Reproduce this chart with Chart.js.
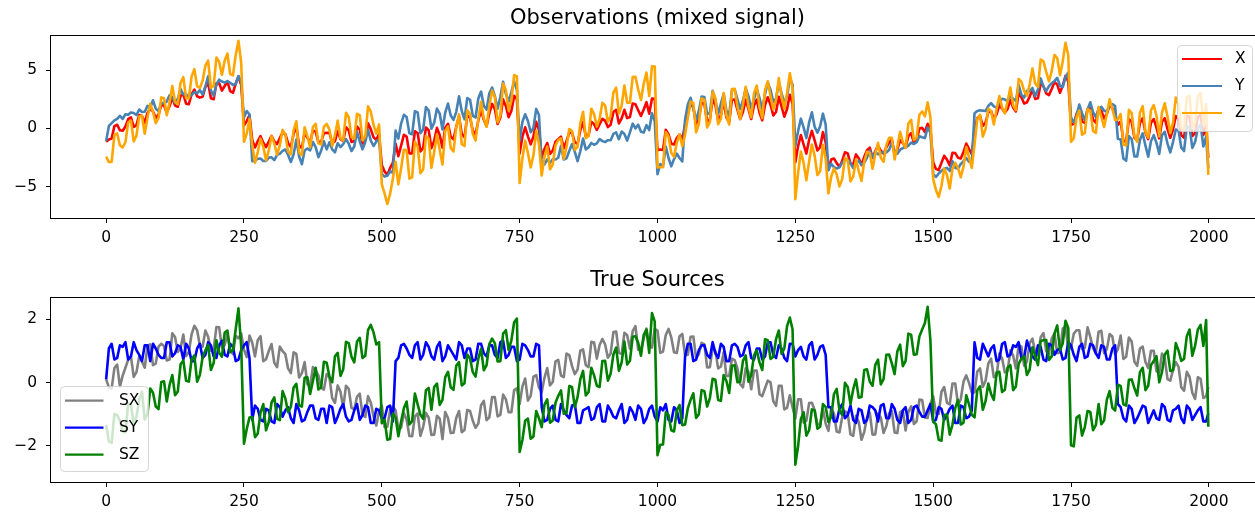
<!DOCTYPE html>
<html>
<head>
<meta charset="utf-8">
<script src="https://cdn.jsdelivr.net/npm/chart.js@4.4.1/dist/chart.umd.min.js"></script>
<style>
    html, body { margin: 0; padding: 0; background: #fff; overflow: hidden; }
    #wrap { position: relative; width: 1255px; height: 513px; overflow: hidden; }
    canvas { position: absolute; left: 0; }
    #obsChart { top: 0; }
    #srcChart { top: 250px; }
</style>
</head>
<body>
<div id="wrap">
    <canvas id="obsChart" width="1275" height="250"></canvas>
    <canvas id="srcChart" width="1275" height="263"></canvas>
</div>
<script>
// sample positions (every 5th sample, plus the last one)
const sampleIndex = [
    0, 5, 10, 15, 20, 25, 30, 35, 40, 45, 50, 55, 60, 65, 70, 75, 80, 85, 90, 95,
    100, 105, 110, 115, 120, 125, 130, 135, 140, 145, 150, 155, 160, 165, 170, 175, 180, 185, 190, 195,
    200, 205, 210, 215, 220, 225, 230, 235, 240, 245, 250, 255, 260, 265, 270, 275, 280, 285, 290, 295,
    300, 305, 310, 315, 320, 325, 330, 335, 340, 345, 350, 355, 360, 365, 370, 375, 380, 385, 390, 395,
    400, 405, 410, 415, 420, 425, 430, 435, 440, 445, 450, 455, 460, 465, 470, 475, 480, 485, 490, 495,
    500, 505, 510, 515, 520, 525, 530, 535, 540, 545, 550, 555, 560, 565, 570, 575, 580, 585, 590, 595,
    600, 605, 610, 615, 620, 625, 630, 635, 640, 645, 650, 655, 660, 665, 670, 675, 680, 685, 690, 695,
    700, 705, 710, 715, 720, 725, 730, 735, 740, 745, 750, 755, 760, 765, 770, 775, 780, 785, 790, 795,
    800, 805, 810, 815, 820, 825, 830, 835, 840, 845, 850, 855, 860, 865, 870, 875, 880, 885, 890, 895,
    900, 905, 910, 915, 920, 925, 930, 935, 940, 945, 950, 955, 960, 965, 970, 975, 980, 985, 990, 995,
    1000, 1005, 1010, 1015, 1020, 1025, 1030, 1035, 1040, 1045, 1050, 1055, 1060, 1065, 1070, 1075, 1080, 1085, 1090, 1095,
    1100, 1105, 1110, 1115, 1120, 1125, 1130, 1135, 1140, 1145, 1150, 1155, 1160, 1165, 1170, 1175, 1180, 1185, 1190, 1195,
    1200, 1205, 1210, 1215, 1220, 1225, 1230, 1235, 1240, 1245, 1250, 1255, 1260, 1265, 1270, 1275, 1280, 1285, 1290, 1295,
    1300, 1305, 1310, 1315, 1320, 1325, 1330, 1335, 1340, 1345, 1350, 1355, 1360, 1365, 1370, 1375, 1380, 1385, 1390, 1395,
    1400, 1405, 1410, 1415, 1420, 1425, 1430, 1435, 1440, 1445, 1450, 1455, 1460, 1465, 1470, 1475, 1480, 1485, 1490, 1495,
    1500, 1505, 1510, 1515, 1520, 1525, 1530, 1535, 1540, 1545, 1550, 1555, 1560, 1565, 1570, 1575, 1580, 1585, 1590, 1595,
    1600, 1605, 1610, 1615, 1620, 1625, 1630, 1635, 1640, 1645, 1650, 1655, 1660, 1665, 1670, 1675, 1680, 1685, 1690, 1695,
    1700, 1705, 1710, 1715, 1720, 1725, 1730, 1735, 1740, 1745, 1750, 1755, 1760, 1765, 1770, 1775, 1780, 1785, 1790, 1795,
    1800, 1805, 1810, 1815, 1820, 1825, 1830, 1835, 1840, 1845, 1850, 1855, 1860, 1865, 1870, 1875, 1880, 1885, 1890, 1895,
    1900, 1905, 1910, 1915, 1920, 1925, 1930, 1935, 1940, 1945, 1950, 1955, 1960, 1965, 1970, 1975, 1980, 1985, 1990, 1995,
    1999
];

// Observations (mixed signal)
const obsX = [
    -1.14, -0.94, -0.87, 0.20, 0.32, -0.16, -0.20, 0.17, 0.80, 0.96,
    0.13, 0.29, 1.16, 1.06, 0.48, 1.34, 1.70, 1.46, 0.92, 1.18,
    2.03, 1.98, 1.38, 1.93, 2.63, 1.97, 1.87, 2.80, 2.95, 2.13,
    2.08, 2.95, 3.34, 2.77, 2.65, 2.73, 3.55, 3.92, 2.59, 2.51,
    3.88, 3.88, 3.25, 3.65, 4.02, 3.21, 3.07, 3.86, 4.48, 3.72,
    0.28, 0.62, 1.16, -1.01, -1.63, -1.09, -0.66, -1.23, -1.60, -1.13,
    -0.64, -1.12, -1.34, -0.83, -0.35, -0.48, -1.27, -1.60, -0.48, 0.19,
    -1.45, -1.69, -0.38, -0.81, -1.20, -0.19, -0.27, -1.17, -1.15, -0.39,
    -0.38, -0.37, -1.26, -1.09, -0.23, -0.91, -1.06, 0.11, -0.18, -1.16,
    -1.09, 0.17, -0.11, -1.29, -0.97, 0.45, -0.08, -0.76, -0.98, -0.49,
    -3.15, -3.71, -3.99, -3.40, -2.97, -1.31, -2.38, -1.48, -0.54, -0.69,
    -2.14, -2.14, -0.24, -0.39, -1.98, -1.67, 0.08, -0.15, -1.69, -1.06,
    0.05, -0.57, -1.66, 0.07, 0.40, -0.72, -0.94, 0.14, 1.03, -0.48,
    -0.74, 1.10, 0.94, -0.20, -0.51, 0.69, 1.58, 0.74, 0.19, 1.30,
    2.11, 1.67, 0.38, 0.94, 2.50, 1.91, 0.97, 1.53, 2.80, 2.53,
    -2.15, -0.71, 0.10, -0.68, -1.37, -0.69, 0.57, -0.11, -2.49, -1.78,
    -1.25, -2.19, -1.91, -1.15, -0.93, -0.71, -1.70, -1.08, -0.37, -0.35,
    -1.19, -1.33, -0.17, 0.54, -0.69, -0.59, 0.58, 0.37, -0.12, 0.37,
    0.83, 0.67, 0.12, 0.32, 1.41, 1.60, 0.43, 0.87, 1.60, 0.89,
    0.98, 2.15, 2.08, 1.57, 1.07, 1.63, 2.26, 1.27, 2.58, 2.55,
    -1.88, -1.81, -1.86, -0.11, -0.51, -1.31, -1.37, -0.82, -0.52, -0.94,
    0.36, 1.29, 2.13, 1.80, 0.39, 0.93, 2.20, 2.13, 0.60, 0.78,
    2.50, 2.02, 0.68, 1.16, 2.33, 0.94, 0.56, 2.47, 2.49, 1.59,
    0.81, 1.42, 2.49, 1.65, 0.81, 1.97, 2.48, 1.35, 0.70, 2.02,
    2.68, 2.04, 1.11, 1.42, 2.73, 1.89, 1.01, 1.67, 2.89, 2.12,
    -2.91, -1.52, -0.56, -1.38, -2.16, -0.98, -0.21, -1.02, -1.89, -1.61,
    -0.32, -1.19, -3.56, -2.67, -2.58, -2.98, -3.30, -2.79, -2.05, -2.14,
    -3.05, -3.08, -2.23, -2.56, -3.15, -2.44, -1.87, -1.65, -2.53, -1.96,
    -1.48, -1.90, -2.17, -1.63, -1.21, -0.97, -2.14, -1.79, -1.01, -1.26,
    -1.61, -0.66, -0.41, -1.21, -1.06, -0.01, 0.05, -0.30, 0.40, -0.02,
    -2.90, -3.48, -3.58, -2.96, -2.35, -2.68, -3.17, -2.09, -2.12, -2.51,
    -2.59, -2.02, -1.30, -1.78, -2.21, -0.13, 0.89, 1.06, 0.23, 0.50,
    1.41, 1.48, 0.80, 1.22, 1.99, 1.70, 1.37, 1.68, 2.45, 1.80,
    1.46, 3.06, 2.68, 2.14, 2.24, 2.74, 3.34, 2.54, 2.59, 3.89,
    3.64, 3.02, 2.87, 3.40, 3.99, 3.77, 3.06, 3.68, 4.52, 4.05,
    0.29, 0.41, 1.23, 1.75, 0.61, 0.47, 1.68, 1.74, 0.76, 0.50,
    1.71, 1.50, 0.86, 1.25, 2.00, 1.74, 1.18, 0.31, 0.60, -1.07,
    -1.14, 0.79, 0.57, -0.80, -1.01, 0.48, 0.88, -0.37, -0.92, 0.49,
    0.81, 0.07, -0.85, 0.57, 0.88, -0.06, -0.80, -0.09, 1.07, 0.79,
    -0.59, -0.79, 1.08, 1.03, -0.65, -0.39, 0.97, 1.17, -0.56, 0.31,
    -2.52
];
const obsY = [
    -1.09, 0.22, 0.46, 0.70, 0.82, 1.09, 0.82, 1.22, 1.17, 1.38,
    1.32, 1.16, 1.63, 1.41, 1.43, 1.94, 1.78, 2.42, 1.70, 1.49,
    2.20, 2.18, 2.31, 2.85, 2.68, 2.18, 2.57, 3.39, 2.92, 2.94,
    2.68, 2.87, 3.12, 3.02, 3.29, 2.94, 3.61, 4.48, 3.27, 2.81,
    3.78, 4.19, 4.03, 3.94, 4.08, 3.93, 3.75, 3.80, 4.51, 3.97,
    0.94, 1.50, 1.20, -2.82, -2.78, -2.60, -2.58, -2.80, -2.80, -2.51,
    -2.48, -2.72, -2.27, -2.18, -1.93, -1.81, -2.28, -2.88, -2.24, -0.95,
    -2.41, -3.07, -1.89, -1.72, -1.88, -1.17, -1.60, -2.47, -1.90, -1.11,
    -1.80, -1.19, -1.80, -2.05, -1.27, -1.60, -1.34, -0.92, -1.31, -1.94,
    -1.55, -0.29, -1.12, -1.80, -1.16, -0.12, -1.05, -1.51, -1.13, -0.93,
    -3.92, -4.14, -4.07, -3.69, -3.82, -0.19, -0.87, 0.42, 1.17, 0.98,
    -0.42, -0.51, 1.48, 1.38, -0.41, -0.09, 1.84, 1.54, -0.03, 0.50,
    1.71, 1.28, -0.09, 1.37, 2.14, 1.11, 0.74, 1.43, 2.76, 1.49,
    0.79, 2.62, 2.47, 1.09, 0.94, 2.57, 3.17, 1.96, 1.62, 3.03,
    3.52, 2.78, 1.70, 2.73, 4.02, 2.96, 2.32, 3.13, 4.05, 3.30,
    -1.08, 0.58, 1.22, 0.64, -0.33, 0.05, 1.68, 1.15, -3.12, -3.09,
    -2.66, -2.98, -2.65, -2.67, -2.52, -1.50, -2.67, -2.57, -1.94, -1.34,
    -2.01, -2.82, -1.96, -0.87, -1.80, -1.62, -1.25, -1.40, -1.28, -0.91,
    -1.09, -1.17, -1.01, -1.02, -0.47, -0.34, -0.92, -0.27, -0.47, -1.04,
    -0.34, 0.41, 0.01, 0.32, -0.29, -0.35, 0.28, -0.14, 1.30, 0.62,
    -3.94, -3.06, -3.23, -1.55, -2.54, -3.26, -2.63, -2.17, -2.54, -2.84,
    0.76, 2.08, 2.64, 1.75, 0.73, 1.51, 2.75, 2.70, 1.24, 1.32,
    3.23, 2.45, 1.24, 2.14, 2.98, 1.52, 1.14, 3.27, 3.37, 2.50,
    1.67, 2.38, 3.45, 2.76, 1.70, 2.51, 3.37, 2.62, 1.65, 2.94,
    3.93, 3.32, 2.29, 2.57, 3.96, 3.02, 2.22, 2.75, 4.32, 3.75,
    -1.51, -0.23, 0.84, 0.09, -0.83, 0.53, 1.39, 0.15, -0.36, 0.19,
    1.27, 0.34, -3.58, -3.05, -3.32, -3.44, -3.34, -2.93, -2.73, -2.69,
    -2.96, -3.42, -2.99, -2.77, -3.13, -2.94, -2.50, -1.91, -2.49, -2.02,
    -2.22, -2.08, -2.05, -2.07, -1.86, -1.20, -2.18, -2.17, -1.83, -1.69,
    -1.63, -1.48, -1.22, -1.34, -1.18, -0.67, -0.76, -0.83, 0.08, -0.37,
    -3.92, -4.17, -3.87, -3.65, -3.46, -3.39, -3.66, -2.81, -3.39, -3.45,
    -3.06, -2.82, -2.55, -2.86, -2.94, 1.31, 1.50, 1.57, 1.53, 1.50,
    1.94, 2.18, 1.90, 1.79, 2.26, 2.55, 2.49, 2.33, 2.82, 2.55,
    2.37, 3.75, 2.89, 2.66, 3.24, 3.20, 3.48, 2.79, 3.34, 4.30,
    3.59, 3.21, 3.64, 3.89, 4.09, 4.34, 3.67, 3.56, 4.41, 4.81,
    0.92, 0.52, 1.08, 2.05, 1.31, 0.70, 1.64, 2.25, 1.40, 0.97,
    1.69, 1.86, 1.53, 1.45, 1.96, 2.09, 1.92, -0.90, -0.93, -2.58,
    -2.78, -0.66, -0.91, -2.41, -2.41, -0.99, -0.42, -1.48, -2.43, -1.10,
    -0.58, -1.24, -2.19, -0.57, -0.29, -1.30, -2.06, -1.17, -0.09, -0.19,
    -1.65, -1.94, 0.18, 0.11, -1.67, -1.16, 0.01, 0.33, -1.55, -0.70,
    -3.43
];
const obsZ = [
    -2.43, -2.89, -2.88, -0.56, -0.43, -1.44, -1.64, -1.18, 0.51, 0.68,
    -1.11, -0.62, 1.03, 1.11, -0.46, 0.92, 2.12, 1.42, 0.46, 0.91,
    2.67, 2.60, 1.13, 2.22, 3.65, 2.29, 2.08, 3.93, 4.41, 2.61,
    2.60, 4.46, 5.10, 3.63, 3.48, 4.11, 5.40, 5.84, 3.50, 3.66,
    6.10, 5.71, 4.62, 5.83, 6.44, 4.68, 4.56, 6.30, 7.53, 5.63,
    -1.14, -0.45, 0.80, -1.47, -2.95, -2.03, -0.88, -1.57, -2.74, -1.88,
    -0.66, -1.28, -2.25, -1.45, -0.12, -0.53, -1.99, -2.22, -0.16, 0.61,
    -2.10, -2.30, 0.10, -0.67, -1.62, 0.11, 0.40, -1.28, -1.39, 0.16,
    0.39, -0.10, -1.50, -0.58, 0.67, -0.85, -1.04, 1.35, 0.97, -0.74,
    -0.88, 1.25, 1.14, -1.03, -0.67, 1.90, 1.44, 0.30, -0.45, 0.35,
    -4.81, -5.59, -6.50, -5.63, -4.33, -2.86, -4.81, -3.43, -1.83, -1.88,
    -4.32, -4.21, -1.13, -1.57, -3.85, -3.52, -0.64, -0.88, -3.38, -2.03,
    -0.51, -1.85, -3.11, -0.23, 0.18, -1.67, -1.97, 0.11, 1.23, -1.36,
    -1.51, 1.56, 1.25, -0.48, -1.04, 0.80, 2.29, 0.84, 0.15, 1.97,
    3.27, 2.69, 0.52, 1.11, 3.86, 3.31, 1.53, 2.40, 4.59, 4.47,
    -4.69, -2.59, -1.05, -2.11, -3.36, -2.31, -0.21, -1.32, -4.05, -2.41,
    -1.55, -3.51, -3.10, -1.46, -0.99, -0.85, -2.61, -1.59, -0.05, -0.23,
    -1.84, -1.59, 0.44, 1.44, -0.83, -0.65, 1.70, 1.24, 0.16, 0.83,
    2.20, 1.97, 0.58, 1.06, 3.10, 3.52, 1.27, 1.97, 3.69, 2.21,
    2.21, 4.42, 4.45, 3.35, 2.45, 3.84, 4.80, 2.79, 5.34, 5.33,
    -3.36, -3.31, -3.33, -0.30, -0.69, -2.11, -2.44, -1.23, -0.50, -1.52,
    -0.54, 0.91, 2.31, 2.19, -0.34, 0.38, 2.59, 2.47, 0.08, 0.54,
    3.17, 2.61, 0.36, 0.84, 3.05, 1.10, 0.34, 3.38, 3.40, 1.83,
    0.82, 2.04, 3.58, 1.85, 0.95, 3.02, 3.69, 1.81, 0.89, 3.30,
    4.05, 2.80, 1.64, 2.43, 4.33, 2.75, 1.67, 3.06, 4.75, 3.41,
    -6.08, -3.81, -1.99, -2.96, -4.45, -2.82, -1.38, -2.34, -4.01, -3.68,
    -1.41, -2.61, -5.58, -4.16, -3.44, -3.96, -4.98, -4.36, -2.52, -2.77,
    -4.55, -4.14, -2.66, -3.67, -4.52, -2.82, -2.01, -2.10, -3.46, -2.22,
    -1.24, -2.52, -2.86, -1.44, -0.81, -0.81, -2.66, -1.60, -0.28, -1.19,
    -1.68, 0.43, 0.74, -0.99, -0.78, 1.18, 1.46, 1.04, 2.24, 0.98,
    -4.36, -5.29, -5.89, -4.95, -3.45, -4.01, -5.17, -3.44, -2.95, -3.40,
    -4.19, -3.28, -1.59, -2.48, -3.39, -1.39, 0.83, 1.17, -0.70, -0.06,
    1.69, 1.50, 0.34, 1.65, 2.79, 1.79, 1.30, 2.35, 3.51, 1.99,
    1.57, 4.25, 4.01, 3.24, 2.82, 3.78, 5.16, 3.87, 3.57, 5.93,
    5.77, 4.87, 4.05, 4.93, 6.32, 6.05, 4.57, 5.78, 7.37, 6.30,
    -1.15, -0.84, 0.95, 1.54, -0.54, -0.39, 1.66, 1.53, -0.21, -0.39,
    1.84, 1.00, 0.13, 1.24, 2.50, 1.67, 0.74, 0.77, 1.24, -1.39,
    -1.46, 1.60, 1.32, -0.65, -1.16, 1.35, 1.92, -0.29, -0.79, 1.56,
    2.00, 1.09, -0.68, 1.36, 2.16, 1.01, -0.40, 0.50, 2.65, 2.06,
    0.03, -0.17, 2.72, 2.80, 0.04, 0.51, 2.74, 3.06, 0.36, 2.07,
    -3.99
];

// True sources
const srcSX = [
    0.10, -0.15, -0.19, 0.46, 0.57, -0.13, 0.22, 0.47, 0.73, 0.83,
    0.18, 0.33, 0.83, 0.67, 0.47, 1.16, 1.21, 0.55, 0.60, 1.14,
    1.23, 1.16, 0.70, 0.73, 1.56, 1.44, 0.97, 1.09, 1.52, 0.84,
    0.97, 1.53, 1.80, 1.66, 1.18, 1.14, 1.65, 1.45, 1.01, 1.06,
    1.76, 1.75, 1.10, 1.19, 1.54, 1.02, 0.91, 1.49, 1.40, 1.56,
    1.04, 0.81, 1.49, 1.26, 0.83, 1.35, 1.47, 0.68, 0.74, 1.00,
    1.22, 0.63, 0.49, 1.14, 1.00, 0.90, 0.45, 0.30, 0.96, 0.91,
    0.16, 0.30, 0.65, -0.05, -0.11, 0.49, 0.39, 0.23, -0.17, -0.22,
    0.27, 0.17, -0.49, -0.64, -0.09, -0.29, -0.80, -0.10, -0.20, -0.80,
    -0.85, -0.45, -0.35, -1.04, -1.09, -0.43, -0.63, -1.07, -1.36, -0.89,
    -0.73, -1.41, -1.40, -0.88, -0.76, -0.88, -1.46, -1.43, -0.96, -1.17,
    -1.69, -1.70, -1.07, -0.98, -1.69, -1.40, -0.96, -1.11, -1.66, -1.65,
    -1.05, -1.14, -1.79, -0.93, -1.12, -1.60, -1.59, -1.12, -0.90, -1.57,
    -1.50, -0.87, -0.90, -1.21, -1.43, -1.30, -0.72, -0.58, -1.19, -1.10,
    -0.46, -0.46, -1.07, -1.02, -0.38, -0.53, -0.94, -0.94, -0.24, -0.18,
    -0.68, -0.12, 0.13, -0.57, -0.42, 0.19, 0.24, -0.16, -0.30, 0.15,
    0.46, -0.09, 0.02, 0.67, 0.72, 0.22, 0.17, 0.92, 0.87, 0.52,
    0.27, 0.41, 1.01, 1.05, 0.55, 0.49, 1.29, 1.27, 0.76, 1.19,
    1.38, 1.21, 0.79, 0.92, 1.60, 1.62, 0.94, 0.91, 1.58, 1.50,
    1.07, 1.63, 1.79, 1.04, 1.05, 1.40, 1.71, 1.16, 1.11, 1.70,
    1.65, 0.94, 0.98, 1.51, 1.70, 1.43, 0.96, 0.94, 1.47, 1.54,
    0.86, 0.88, 1.45, 1.46, 0.78, 0.90, 1.26, 1.22, 0.48, 0.49,
    1.10, 1.00, 0.45, 0.51, 0.96, 0.21, 0.21, 0.76, 0.71, 0.45,
    -0.05, -0.15, 0.45, 0.34, -0.21, 0.38, 0.38, -0.37, -0.43, -0.18,
    0.06, 0.01, -0.59, -0.74, -0.10, -0.10, -0.85, -0.80, -0.40, -0.79,
    -1.14, -0.53, -0.53, -1.27, -1.21, -0.65, -0.64, -0.87, -1.31, -1.34,
    -0.82, -1.30, -1.53, -0.80, -0.98, -1.55, -1.58, -1.09, -0.91, -0.97,
    -1.64, -1.69, -1.05, -1.25, -1.81, -1.56, -1.11, -0.95, -1.65, -1.64,
    -0.98, -1.11, -1.60, -1.38, -0.97, -0.90, -1.58, -1.60, -0.93, -0.90,
    -1.52, -0.93, -0.75, -1.31, -1.23, -0.54, -0.55, -1.11, -1.12, -0.67,
    -0.43, -0.98, -0.99, -0.29, -0.14, -0.64, -0.69, -0.03, -0.03, -0.68,
    -0.53, 0.03, 0.23, -0.01, -0.31, -0.31, 0.35, 0.45, -0.14, 0.06,
    0.61, 0.76, 0.17, 0.22, 0.92, 0.77, 0.32, 0.37, 1.02, 0.86,
    0.45, 1.19, 1.14, 0.53, 0.67, 1.25, 1.39, 0.97, 0.86, 1.44,
    1.57, 0.99, 0.92, 1.39, 1.56, 0.93, 0.95, 1.71, 1.78, 1.04,
    1.10, 1.55, 1.66, 1.66, 1.06, 1.10, 1.75, 1.44, 1.09, 0.92,
    1.61, 1.64, 0.93, 1.06, 1.54, 1.46, 0.89, 1.06, 1.49, 0.75,
    0.82, 1.43, 1.30, 0.66, 0.53, 1.08, 1.14, 0.65, 0.46, 1.01,
    1.01, 0.36, 0.32, 0.92, 0.77, 0.11, 0.06, 0.40, 0.65, 0.50,
    -0.15, -0.26, 0.34, 0.18, -0.32, -0.52, 0.17, 0.12, -0.49, -0.44,
    -0.14
];
const srcSY = [
    0.10, 1.08, 1.23, 0.73, 0.78, 1.18, 1.13, 1.28, 0.73, 0.83,
    1.28, 1.03, 0.88, 0.68, 1.18, 1.18, 0.68, 1.23, 1.08, 0.88,
    0.78, 0.78, 1.28, 1.28, 0.83, 0.93, 1.18, 1.13, 0.73, 1.23,
    1.08, 0.68, 0.68, 1.08, 1.23, 0.78, 0.88, 1.28, 1.18, 0.83,
    0.78, 1.18, 1.33, 0.88, 0.83, 1.23, 1.13, 0.68, 0.73, 1.03,
    1.18, 1.28, 0.78, -1.18, -0.73, -0.83, -1.18, -1.23, -0.83, -0.88,
    -1.23, -1.28, -0.68, -0.78, -1.08, -0.88, -0.78, -1.13, -1.28, -0.68,
    -0.88, -1.23, -1.18, -0.93, -0.73, -0.73, -1.13, -1.18, -0.83, -0.83,
    -1.28, -0.73, -0.78, -1.28, -1.08, -0.83, -0.68, -1.08, -1.23, -1.18,
    -0.88, -0.68, -1.18, -1.03, -0.73, -0.78, -1.28, -1.28, -0.83, -0.88,
    -1.13, -1.13, -0.78, -0.73, -1.23, 0.68, 0.78, 1.18, 1.23, 1.08,
    0.88, 0.78, 1.18, 1.28, 0.73, 0.88, 1.28, 1.13, 0.83, 0.73,
    1.13, 1.28, 0.68, 0.83, 1.18, 1.03, 0.88, 0.73, 1.28, 1.18,
    0.78, 1.08, 1.08, 0.68, 0.73, 1.23, 1.23, 0.93, 0.83, 1.18,
    1.18, 0.88, 0.78, 1.28, 1.33, 0.78, 0.88, 1.13, 1.13, 0.68,
    0.73, 1.23, 1.18, 1.03, 0.83, 0.83, 1.23, 1.18, -0.78, -1.23,
    -1.18, -0.83, -0.73, -1.18, -1.23, -0.68, -0.88, -1.03, -1.13, -0.73,
    -0.68, -1.28, -1.28, -0.88, -0.83, -0.78, -1.18, -1.13, -0.78, -0.68,
    -1.23, -1.23, -0.73, -0.88, -1.08, -1.13, -0.88, -0.68, -1.28, -1.18,
    -0.78, -0.93, -1.18, -0.73, -0.83, -1.28, -1.13, -0.83, -0.73, -1.08,
    -1.23, -0.78, -0.88, -0.68, -1.18, -1.23, -0.78, -0.88, -1.28, -1.13,
    0.83, 1.23, 1.23, 0.68, 0.73, 1.03, 1.18, 1.18, 0.88, 0.78,
    1.28, 0.93, 0.78, 1.23, 1.13, 0.68, 0.68, 1.18, 1.23, 1.13,
    0.83, 0.88, 1.18, 1.28, 0.78, 0.73, 1.08, 1.08, 0.73, 0.83,
    1.28, 1.28, 0.88, 0.78, 1.18, 1.08, 0.78, 0.68, 1.23, 1.23,
    0.83, 1.03, 1.13, 0.83, 0.73, 1.18, 1.28, 0.73, 0.88, 1.13,
    1.18, 0.88, -0.78, -0.78, -1.23, -1.23, -0.83, -0.68, -1.13, -1.03,
    -0.73, -1.18, -1.28, -0.83, -0.88, -1.28, -1.18, -0.73, -0.78, -0.88,
    -1.23, -0.73, -0.68, -1.13, -1.13, -0.68, -0.83, -1.18, -1.28, -0.88,
    -0.78, -1.28, -1.18, -0.78, -0.73, -0.93, -1.08, -1.08, -0.88, -0.68,
    -1.23, -1.18, -0.78, -0.83, -1.18, -1.03, -0.83, -0.73, -1.28, -1.28,
    -0.73, -0.78, -1.13, -1.08, -0.88, 1.28, 0.78, 0.73, 1.23, 1.03,
    0.83, 1.08, 1.18, 0.68, 0.73, 1.23, 1.28, 0.83, 0.88, 1.18,
    1.13, 1.28, 0.78, 0.78, 1.33, 1.08, 0.83, 0.73, 1.18, 1.13,
    0.73, 0.68, 1.23, 1.18, 0.88, 1.03, 1.08, 0.73, 0.78, 1.28,
    1.18, 0.88, 0.68, 1.13, 1.23, 0.78, 0.83, 1.23, 1.18, 0.93,
    0.78, 1.18, 1.13, 0.73, 0.73, 1.08, 1.18, -0.68, -0.78, -1.13,
    -1.23, -0.73, -0.83, -1.28, -1.13, -0.93, -0.73, -0.78, -1.28, -1.08,
    -0.88, -1.13, -1.18, -0.68, -0.78, -1.18, -1.23, -0.88, -0.83, -0.73,
    -1.13, -1.28, -0.73, -0.83, -1.18, -1.03, -0.88, -0.78, -1.23, -1.23,
    -0.98
];
const srcSZ = [
    -1.34, -1.87, -1.91, -0.99, -1.03, -1.21, -1.55, -1.58, -0.66, -0.70,
    -1.33, -1.07, -0.55, -0.29, -1.17, -1.00, -0.19, -0.32, -0.76, -0.84,
    0.02, 0.04, -0.60, -0.08, 0.24, -0.40, -0.28, 0.58, 0.70, 0.06,
    0.03, 0.74, 0.86, 0.03, 0.24, 0.81, 1.02, 1.19, 0.40, 0.62,
    1.34, 0.95, 0.82, 1.58, 1.65, 0.96, 1.03, 1.69, 2.35, 1.13,
    -1.94, -1.47, -1.11, -1.09, -1.73, -1.61, -0.95, -0.68, -1.51, -1.25,
    -0.63, -0.47, -1.15, -1.19, -0.27, -0.50, -0.94, -0.77, -0.16, -0.04,
    -0.73, -0.76, 0.15, 0.17, -0.36, 0.05, 0.47, -0.22, -0.15, 0.66,
    0.63, 0.19, 0.01, 0.83, 0.94, 0.21, 0.42, 1.29, 1.25, 0.82,
    0.64, 1.30, 1.42, 0.78, 0.85, 1.66, 1.83, 1.59, 1.21, 1.28,
    -1.29, -1.17, -1.81, -1.79, -0.98, -1.11, -1.70, -1.23, -0.81, -0.60,
    -1.33, -1.22, -0.35, -0.69, -1.02, -1.15, -0.24, -0.17, -0.86, -0.14,
    -0.03, -0.71, -0.55, 0.17, 0.34, -0.15, -0.23, 0.53, 0.65, -0.09,
    -0.02, 0.89, 0.76, 0.33, 0.19, 0.76, 1.07, 0.39, 0.55, 1.22,
    1.39, 1.25, 0.67, 0.68, 1.55, 1.66, 1.03, 1.34, 1.91, 2.03,
    -2.20, -1.82, -1.21, -1.14, -1.78, -1.71, -0.90, -1.13, -1.41, -0.70,
    -0.53, -1.27, -1.20, -0.64, -0.42, -0.25, -0.99, -0.97, -0.11, -0.14,
    -0.78, -0.46, 0.10, 0.37, -0.41, -0.30, 0.47, 0.23, -0.10, -0.14,
    0.68, 0.69, 0.06, 0.28, 0.89, 1.11, 0.37, 0.64, 1.30, 0.57,
    0.69, 1.45, 1.47, 1.26, 0.85, 1.51, 1.68, 0.94, 2.20, 1.93,
    -2.30, -1.97, -1.96, -0.94, -1.03, -1.51, -1.55, -0.88, -0.71, -1.35,
    -1.33, -0.82, -0.55, -0.34, -1.12, -1.00, -0.24, -0.27, -0.76, -0.49,
    0.12, 0.09, -0.55, -0.58, 0.24, 0.05, -0.33, 0.53, 0.55, 0.01,
    0.03, 0.69, 0.86, 0.03, 0.24, 0.86, 1.02, 0.64, 0.40, 1.37,
    1.34, 0.75, 0.82, 1.38, 1.65, 0.91, 1.08, 1.79, 2.06, 1.68,
    -2.60, -2.02, -1.16, -0.94, -1.68, -1.51, -0.85, -0.88, -1.46, -1.40,
    -0.68, -0.77, -1.25, -1.09, -0.37, -0.20, -0.89, -1.02, -0.01, -0.14,
    -0.68, -0.21, 0.10, -0.48, -0.46, 0.40, 0.42, 0.03, -0.10, 0.56,
    0.73, -0.06, 0.11, 0.88, 0.89, 0.61, 0.27, 0.99, 1.20, 0.52,
    0.69, 1.55, 1.52, 0.88, 0.90, 1.46, 1.68, 1.89, 2.40, 1.33,
    -1.24, -1.32, -1.81, -1.84, -1.03, -1.01, -1.65, -1.33, -0.81, -0.55,
    -1.33, -1.27, -0.40, -0.69, -1.02, -1.10, -0.24, -0.12, -0.86, -0.59,
    -0.03, -0.36, -0.55, 0.32, 0.34, -0.30, -0.23, 0.48, 0.55, -0.24,
    -0.12, 0.59, 0.76, 0.83, 0.24, 0.41, 1.12, 0.84, 0.55, 1.32,
    1.34, 1.35, 0.72, 0.83, 1.55, 1.81, 1.03, 1.24, 1.96, 1.73,
    -1.99, -2.02, -1.11, -1.04, -1.68, -1.41, -0.90, -0.93, -1.51, -1.35,
    -0.68, -1.32, -1.20, -0.54, -0.27, -0.80, -0.89, -0.07, -0.11, -0.69,
    -0.73, 0.09, 0.10, -0.18, -0.41, 0.33, 0.47, -0.24, -0.10, 0.56,
    0.68, 0.84, 0.01, 0.33, 0.89, 1.01, 0.37, 0.39, 1.25, 1.02,
    0.69, 0.75, 1.47, 1.68, 0.85, 1.16, 1.68, 1.83, 1.16, 1.98,
    -1.40
];

// tick labels
const xTicks = [0, 250, 500, 750, 1000, 1250, 1500, 1750, 2000];
const obsTicks = [-5, 0, 5];
const srcTicks = [-2, 0, 2];

const tickFont = { family: 'DejaVu Sans', size: 15.5 };
const titleFont = { family: 'DejaVu Sans', size: 21, weight: 'normal' };

function toPoints(values) {
    return values.map((v, i) => ({ x: sampleIndex[i], y: v }));
}

function tickText(v) {
    return String(v).replace('-', '\u2212');
}

// matplotlib style box around the axes
const frame = {
    id: 'frame',
    afterDatasetsDraw(chart) {
        const a = chart.chartArea;
        const ctx = chart.ctx;
        ctx.save();
        ctx.strokeStyle = '#000';
        ctx.lineWidth = 1;
        ctx.strokeRect(a.left - 0.5, a.top - 0.5, a.right - a.left + 1, a.bottom - a.top + 1);
        ctx.restore();
    }
};

function roundRect(ctx, x, y, w, h, r) {
    ctx.beginPath();
    ctx.moveTo(x + r, y);
    ctx.lineTo(x + w - r, y);
    ctx.arcTo(x + w, y, x + w, y + r, r);
    ctx.lineTo(x + w, y + h - r);
    ctx.arcTo(x + w, y + h, x + w - r, y + h, r);
    ctx.lineTo(x + r, y + h);
    ctx.arcTo(x, y + h, x, y + h - r, r);
    ctx.lineTo(x, y + r);
    ctx.arcTo(x, y, x + r, y, r);
    ctx.closePath();
}

// legend drawn inside the axes, like plt.legend()
const legendBox = {
    id: 'legendBox',
    afterDraw(chart, args, opts) {
        const ctx = chart.ctx;
        ctx.save();
        roundRect(ctx, opts.x, opts.y, opts.w, opts.h, 4);
        ctx.fillStyle = 'rgba(255,255,255,0.8)';
        ctx.fill();
        ctx.strokeStyle = 'rgba(204,204,204,0.8)';
        ctx.lineWidth = 1;
        ctx.stroke();
        ctx.font = tickFont.size + 'px "DejaVu Sans"';
        ctx.textBaseline = 'middle';
        chart.data.datasets.forEach((ds, i) => {
            const y = opts.y + opts.firstRow + i * opts.rowGap;
            ctx.strokeStyle = ds.borderColor;
            ctx.lineWidth = 2.2;
            ctx.beginPath();
            ctx.moveTo(opts.x + opts.handleLeft, y);
            ctx.lineTo(opts.x + opts.handleLeft + opts.handleLen, y);
            ctx.stroke();
            ctx.fillStyle = '#000';
            ctx.fillText(ds.label, opts.x + opts.textLeft, y);
        });
        ctx.restore();
    }
};

function makeOptions(cfg) {
    return {
        responsive: false,
        animation: false,
        devicePixelRatio: 1,
        layout: { padding: { left: 0, right: 11, top: 0, bottom: 0 } },
        elements: {
            point: { radius: 0 },
            line: { borderWidth: 2.6, tension: 0, borderJoinStyle: 'round' }
        },
        plugins: {
            legend: { display: false },
            tooltip: { enabled: false },
            title: {
                display: true,
                text: cfg.title,
                fullSize: false,
                color: '#000',
                font: titleFont,
                padding: cfg.titlePad
            },
            legendBox: cfg.legend
        },
        scales: {
            x: {
                type: 'linear',
                min: -100,
                max: 2100,
                afterBuildTicks: s => { s.ticks = xTicks.map(v => ({ value: v })); },
                afterFit: s => { s.height = cfg.xHeight; },
                ticks: { font: tickFont, color: '#000', padding: 6, maxRotation: 0, autoSkip: false, callback: tickText },
                grid: { drawOnChartArea: false, drawTicks: true, tickLength: 5, color: '#000' },
                border: { display: false }
            },
            y: {
                min: cfg.yMin,
                max: cfg.yMax,
                afterBuildTicks: s => { s.ticks = cfg.yTicks.map(v => ({ value: v })); },
                afterFit: s => { s.width = 51; },
                ticks: { font: tickFont, color: '#000', padding: 9, callback: tickText },
                grid: { drawOnChartArea: false, drawTicks: true, tickLength: 5, color: '#000' },
                border: { display: false }
            }
        }
    };
}

new Chart(document.getElementById('obsChart'), {
    type: 'line',
    data: {
        datasets: [
            { label: 'X', data: toPoints(obsX), borderColor: '#ff0000', order: 3 },
            { label: 'Y', data: toPoints(obsY), borderColor: '#4682b4', order: 2 },
            { label: 'Z', data: toPoints(obsZ), borderColor: '#ffa500', order: 1 }
        ]
    },
    options: makeOptions({
        title: 'Observations (mixed signal)',
        titlePad: { top: 6.1, bottom: 4.7 },
        xHeight: 32,
        yMin: -7.7,
        yMax: 7.95,
        yTicks: obsTicks,
        legend: { x: 1177.5, y: 45.5, w: 75, h: 86, firstRow: 13.5, rowGap: 27, handleLeft: 4.5, handleLen: 40, textLeft: 57.5 }
    }),
    plugins: [frame, legendBox]
});

new Chart(document.getElementById('srcChart'), {
    type: 'line',
    data: {
        datasets: [
            { label: 'SX', data: toPoints(srcSX), borderColor: '#808080', order: 3 },
            { label: 'SY', data: toPoints(srcSY), borderColor: '#0000ff', order: 2 },
            { label: 'SZ', data: toPoints(srcSZ), borderColor: '#008000', order: 1 }
        ]
    },
    options: makeOptions({
        title: 'True Sources',
        titlePad: { top: 18.1, bottom: 4.7 },
        xHeight: 31,
        yMin: -3.15,
        yMax: 2.68,
        yTicks: srcTicks,
        legend: { x: 60.5, y: 136.5, w: 88, h: 85, firstRow: 14.2, rowGap: 27, handleLeft: 4.5, handleLen: 38.5, textLeft: 58.5 }
    }),
    plugins: [frame, legendBox]
});
</script>
</body>
</html>
